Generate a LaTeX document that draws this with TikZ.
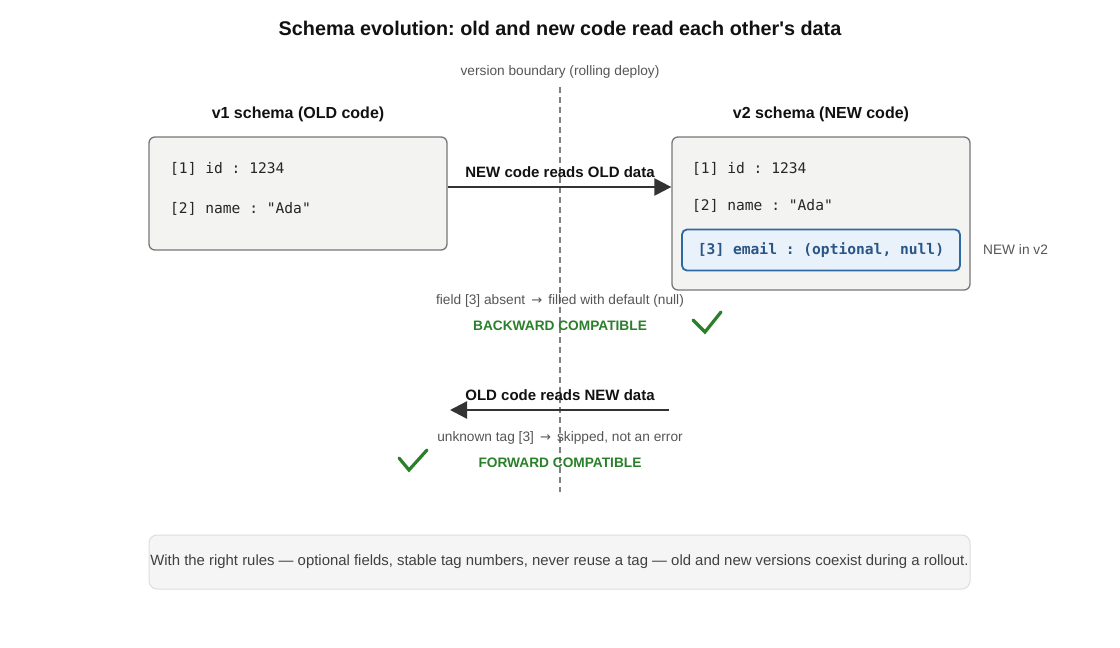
\documentclass[tikz,border=0pt]{standalone}
\usepackage{fontspec}
\setmainfont{Liberation Sans}
\setmonofont{DejaVu Sans Mono}
\newfontfamily\arrowfont{DejaVu Sans}
\usetikzlibrary{arrows.meta}
\definecolor{titlec}{HTML}{111111}
\definecolor{graytxt}{HTML}{555555}
\definecolor{boxfill}{HTML}{F3F3F1}
\definecolor{boxdraw}{HTML}{777777}
\definecolor{newfill}{HTML}{E9F1FA}
\definecolor{newdraw}{HTML}{2E69A3}
\definecolor{newtxt}{HTML}{2A5686}
\definecolor{okgreen}{HTML}{2A7F2A}
\definecolor{arrc}{HTML}{333333}
\definecolor{notefill}{HTML}{F5F5F5}
\definecolor{notedraw}{HTML}{DDDDDD}
\frenchspacing
\newcommand{\myarr}{\,{\arrowfont\fontsize{13}{15}\selectfont →}\,}
\tikzset{
  schemabox/.style={draw=boxdraw, fill=boxfill, line width=1.3pt, rounded corners=6pt, inner sep=0pt},
  newbox/.style={draw=newdraw, fill=newfill, line width=1.8pt, rounded corners=5pt, inner sep=0pt},
  head/.style={font=\fontsize{16}{19}\selectfont\bfseries, text=titlec, inner sep=0pt},
  code/.style={font=\fontsize{14.6}{17}\selectfont\ttfamily, text=black!85, anchor=west, inner sep=0pt},
  note/.style={font=\fontsize{13.7}{16}\selectfont, text=graytxt, inner sep=0pt},
  compat/.style={font=\fontsize{13.7}{16}\selectfont\bfseries, text=okgreen, inner sep=0pt},
  arrlbl/.style={font=\fontsize{15}{18}\selectfont\bfseries, text=titlec, inner sep=0pt},
  flow/.style={draw=arrc, line width=2.4pt, -{Triangle[length=17pt,width=17pt]}},
  tick/.style={draw=okgreen, line width=3.2pt},
}
\begin{document}
\begin{tikzpicture}[x=1pt,y=-1pt]
\useasboundingbox (0,0) rectangle (1120,648);
% title
\node[font=\fontsize{19.8}{24}\selectfont\bfseries, text=titlec, inner sep=0pt] (title) at (560,28) {Schema evolution: old and new code read each other\textquotesingle s data};
% boundary
\node[note] (bnd) at (560,72) {version boundary (rolling deploy)};
\coordinate (bndtop) at (560,87);
\coordinate (bndbot) at (560,492);
\draw[draw=black!50, line width=1.4pt, dash pattern=on 6pt off 4pt] (bndtop) -- (bndbot);
% v1
\node[head] (h1) at (298,114) {v1 schema (OLD code)};
\node[schemabox, minimum width=298pt, minimum height=113pt] (v1) at (298,193.5) {};
\node[code] (v1a) at (170,169) {[1] id : 1234};
\node[code] (v1b) at (170,209) {[2] name : "Ada"};
% v2
\node[head] (h2) at (821,114) {v2 schema (NEW code)};
\node[schemabox, minimum width=298pt, minimum height=153pt] (v2) at (821,213.5) {};
\node[code] (v2a) at (692,169) {[1] id : 1234};
\node[code] (v2b) at (692,206) {[2] name : "Ada"};
\node[newbox, minimum width=278pt, minimum height=41pt] (v2c) at (821,250) {};
\node[font=\fontsize{14.6}{17}\selectfont\ttfamily\bfseries, text=newtxt, inner sep=0pt] (v2ct) at (v2c.center) {[3] email : (optional, null)};
\node[note, anchor=west] (newin) at (983,250) {NEW in v2};
% top arrow
\node[arrlbl] (lA) at (560,172) {NEW code reads OLD data};
\draw[flow] (v1.east |- 0,187) -- (v2.west |- 0,187);
\node[note] (nA) at (560,301) {field [3] absent \myarr{} filled with default (null)};
\node[compat] (cA) at (560,326) {BACKWARD COMPATIBLE};
\draw[tick, line cap=round] (693,320) -- (705,332) -- (721,312);
% bottom arrow
\node[arrlbl] (lB) at (560,395) {OLD code reads NEW data};
\coordinate (bs) at (669,410);
\coordinate (be) at (450,410);
\draw[flow] (bs) -- (be);
\node[note] (nB) at (560,438) {unknown tag [3] \myarr{} skipped, not an error};
\node[compat] (cB) at (560,463) {FORWARD COMPATIBLE};
\draw[tick, line cap=round] (399,458) -- (409,470) -- (427,450);
% bottom note
\node[draw=notedraw, fill=notefill, line width=1pt, rounded corners=8pt, minimum width=821pt, minimum height=54pt, inner sep=0pt, font=\fontsize{14.9}{18}\selectfont, text=black!75] (foot) at (559.5,562) {With the right rules — optional fields, stable tag numbers, never reuse a tag — old and new versions coexist during a rollout.};
\end{tikzpicture}
\end{document}
